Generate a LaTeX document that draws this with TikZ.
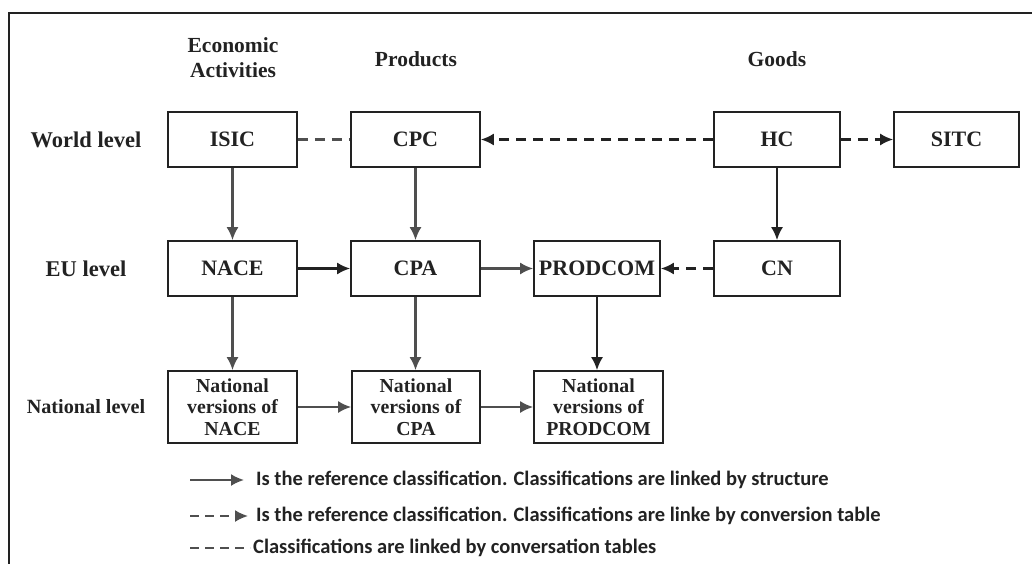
\documentclass[tikz,border=0pt]{standalone}
\usepackage{fontspec}
\setmainfont{Liberation Serif}
\newfontfamily\legendfont{Carlito}
\usetikzlibrary{arrows.meta}
\definecolor{ink}{HTML}{222222}
\definecolor{linkgray}{HTML}{4F4F4F}
\begin{document}
\begin{tikzpicture}[x=1pt,y=-1pt,
  classbox/.style={draw=ink,line width=1.6pt,rectangle,inner sep=0pt,
    minimum width=129pt,minimum height=55pt,font=\fontsize{22}{24}\selectfont\bfseries,text=ink},
  natbox/.style={classbox,minimum height=72pt,align=center,
    font=\fontsize{19.8}{21.5}\selectfont\bfseries},
  rowlabel/.style={font=\fontsize{22.5}{24}\selectfont\bfseries,text=ink},
  colhead/.style={font=\fontsize{21.5}{25}\selectfont\bfseries,text=ink,align=center},
  tip/.style={-{Latex[length=13pt,width=12pt]}},
  structlink/.style={draw=linkgray,line width=2.2pt,tip},
  darklink/.style={structlink,draw=ink},
  convlink/.style={draw=ink,line width=2.2pt,dash pattern=on 10pt off 7pt,tip},
  tablelink/.style={draw=linkgray,line width=2.2pt,dash pattern=on 10pt off 7pt},
  legendtext/.style={anchor=west,inner sep=0pt,font=\legendfont\fontsize{20.5}{22}\selectfont\bfseries,text=ink}
]
\useasboundingbox (0,0) rectangle (1032,564);

% open frame along the top and left side
\draw[ink,line width=1.8pt] (9,564) -- (9,13) -- (1032,13);

% column headings
\node[colhead] (hecon) at (233,58) {Economic\\Activities};
\node[colhead] (hprod) at (416,59) {Products};
\node[colhead] (hgood) at (777,59) {Goods};

% row labels
\node[rowlabel] (rworld) at (86,139.5) {World level};
\node[rowlabel] (reu) at (86,268.5) {EU level};
\node[rowlabel,font=\fontsize{20.2}{22}\selectfont\bfseries] (rnat) at (86,407) {National level};

% world level
\node[classbox] (isic) at (232.5,139.5) {ISIC};
\node[classbox] (cpc) at (415.5,139.5) {CPC};
\node[classbox,minimum width=126pt] (hc) at (777,139.5) {HC};
\node[classbox,minimum width=125pt] (sitc) at (956.5,139.5) {SITC};

% EU level
\node[classbox] (nace) at (232.5,268.5) {NACE};
\node[classbox] (cpa) at (415.5,268.5) {CPA};
\node[classbox,minimum width=126pt] (prodcom) at (597,268.5) {PRODCOM};
\node[classbox,minimum width=126pt] (cn) at (777,268.5) {CN};

% national level
\node[natbox] (nnace) at (232.5,407) {National\\versions of\\NACE};
\node[natbox,minimum width=128pt] (ncpa) at (416,407) {National\\versions of\\CPA};
\node[natbox] (nprod) at (598.5,407) {National\\versions of\\PRODCOM};

% links between classifications
\draw[tablelink] (isic) -- (cpc);
\draw[convlink] (hc) -- (cpc);
\draw[convlink] (hc) -- (sitc);
\draw[structlink] (isic) -- (nace);
\draw[structlink] (cpc) -- (cpa);
\draw[darklink] (hc) -- (cn);
\draw[darklink] (nace) -- (cpa);
\draw[structlink] (cpa) -- (prodcom);
\draw[convlink] (cn) -- (prodcom);
\draw[structlink] (nace) -- (nnace);
\draw[structlink] (cpa.south) -- (cpa.south |- ncpa.north);
\draw[darklink] (prodcom) -- (prodcom.south |- nprod.north);
\draw[structlink] (nnace) -- (ncpa);
\draw[structlink] (ncpa) -- (nprod);

% legend
\coordinate (la1) at (190,480);
\coordinate (lb1) at (244,480);
\coordinate (la2) at (190,516);
\coordinate (lb2) at (248,516);
\coordinate (la3) at (190,548);
\coordinate (lb3) at (250,548);
\draw[structlink,line width=2pt] (la1) -- (lb1);
\draw[convlink,draw=linkgray,line width=2pt,dash pattern=on 9pt off 6pt] (la2) -- (lb2);
\draw[tablelink,line width=2pt,dash pattern=on 9pt off 6pt] (la3) -- (lb3);
\node[legendtext] (lt1) at (256,480) {Is the reference classification. Classifications are linked by structure};
\node[legendtext] (lt2) at (256,516) {Is the reference classification. Classifications are linke by conversion table};
\node[legendtext] (lt3) at (253,548) {Classifications are linked by conversation tables};
\end{tikzpicture}
\end{document}
